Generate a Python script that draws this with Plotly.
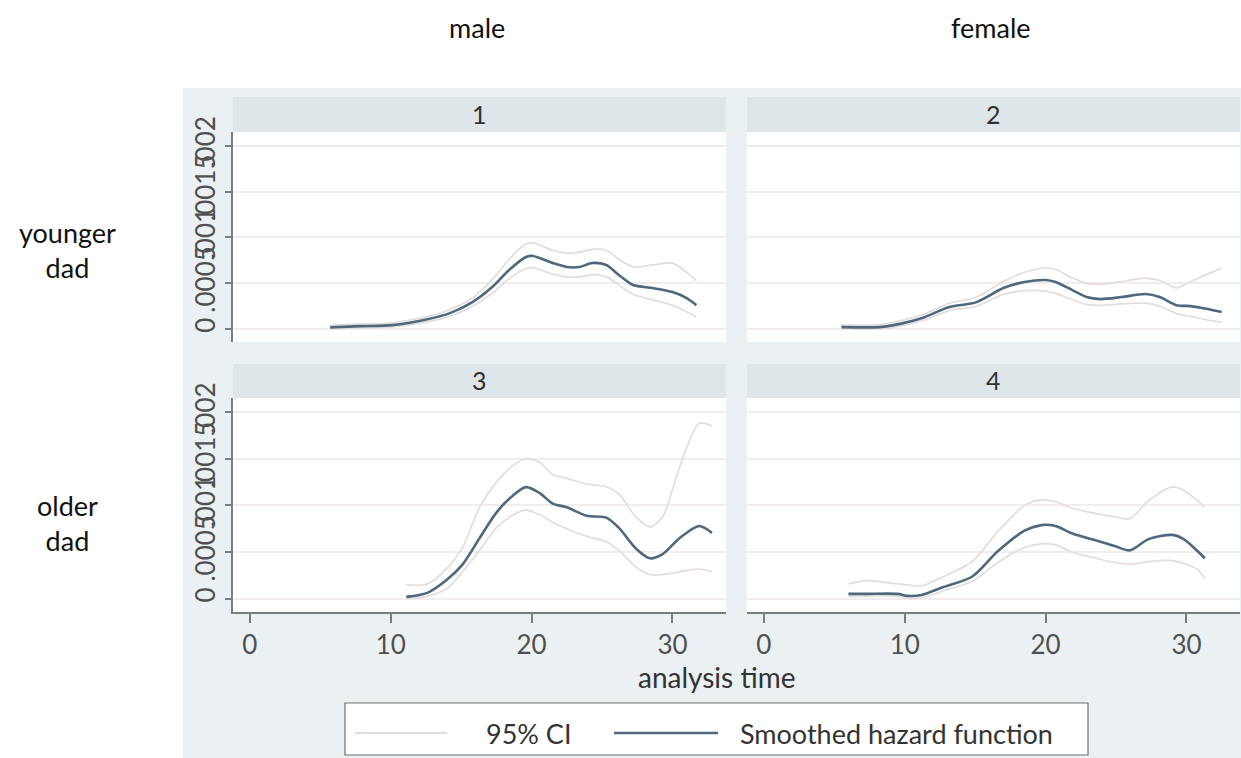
import numpy as np
import plotly.graph_objects as go

# Smoothed hazard estimates (units of 1e-4) with 95% CI, by dad age group and sex
t_p1 = [5.7, 7.8, 10.1, 12.6, 14.2, 15.8, 17.2, 18.4, 19.6, 20.1, 21.5, 22.5, 23.4, 24.3, 25.3, 26.2, 27.2, 28.6, 30.0, 31.0, 31.7]
haz_p1 = [0.19, 0.33, 0.44, 1.09, 1.75, 2.95, 4.59, 6.45, 7.87, 7.98, 7.21, 6.78, 6.78, 7.21, 6.99, 5.90, 4.81, 4.48, 4.04, 3.39, 2.62]
lo_p1 = [0.05, 0.15, 0.25, 0.8, 1.4, 2.5, 3.9, 5.5, 6.6, 6.7, 6.0, 5.7, 5.7, 5.95, 5.7, 4.8, 3.8, 3.2, 2.6, 1.9, 1.3]
hi_p1 = [0.45, 0.55, 0.7, 1.4, 2.15, 3.4, 5.4, 7.6, 9.3, 9.4, 8.6, 8.3, 8.4, 8.7, 8.6, 7.6, 6.8, 7.0, 7.2, 6.2, 5.3]

t_p2 = [5.5, 8.2, 9.2, 11.4, 13.1, 15.1, 17.0, 18.5, 20.0, 20.7, 21.9, 22.9, 23.9, 25.4, 27.1, 28.1, 29.3, 30.3, 31.5, 32.5]
haz_p2 = [0.22, 0.22, 0.44, 1.31, 2.4, 2.95, 4.48, 5.14, 5.36, 5.14, 4.26, 3.5, 3.28, 3.5, 3.83, 3.5, 2.62, 2.51, 2.19, 1.86]
lo_p2 = [0.05, 0.05, 0.2, 1.0, 2.0, 2.5, 3.8, 4.2, 4.15, 3.9, 3.2, 2.7, 2.6, 2.75, 2.84, 2.5, 1.7, 1.4, 1.0, 0.77]
hi_p2 = [0.45, 0.5, 0.75, 1.65, 2.8, 3.5, 5.2, 6.2, 6.67, 6.5, 5.6, 5.0, 4.9, 5.2, 5.57, 5.3, 4.5, 5.2, 6.0, 6.67]

t_p3 = [11.1, 12.6, 14.0, 15.1, 16.3, 17.5, 18.7, 19.6, 20.6, 21.5, 22.5, 23.9, 25.3, 26.2, 27.4, 28.4, 29.3, 30.5, 31.9, 32.8]
haz_p3 = [0.22, 0.65, 2.07, 3.7, 6.5, 9.24, 11.1, 11.96, 11.3, 10.2, 9.8, 8.9, 8.7, 7.6, 5.4, 4.35, 4.8, 6.5, 7.8, 7.07]
lo_p3 = [0.05, 0.3, 1.1, 2.9, 5.2, 7.6, 9.0, 9.5, 9.0, 8.2, 7.5, 6.7, 6.1, 5.2, 3.4, 2.6, 2.6, 2.9, 3.2, 2.9]
hi_p3 = [1.5, 1.6, 3.3, 5.5, 9.8, 12.5, 14.3, 15.0, 14.6, 13.3, 12.9, 12.3, 12.0, 11.2, 8.8, 7.7, 8.8, 14.1, 18.8, 18.5]

t_p4 = [6.0, 7.3, 9.5, 10.2, 11.2, 12.6, 14.8, 16.6, 18.5, 19.7, 20.7, 21.9, 23.7, 24.9, 26.0, 27.3, 29.0, 29.8, 30.8, 31.3]
haz_p4 = [0.54, 0.54, 0.54, 0.33, 0.43, 1.2, 2.4, 5.1, 7.3, 7.9, 7.8, 7.0, 6.2, 5.65, 5.2, 6.4, 6.85, 6.4, 5.1, 4.35]
lo_p4 = [0.3, 0.3, 0.3, 0.1, 0.1, 0.8, 1.9, 3.9, 5.5, 5.9, 5.8, 5.0, 4.3, 3.9, 3.7, 4.0, 4.1, 3.8, 3.15, 2.1]
hi_p4 = [1.6, 1.96, 1.6, 1.5, 1.4, 2.3, 4.0, 7.2, 10.0, 10.6, 10.4, 9.7, 9.1, 8.8, 8.6, 10.5, 12.0, 11.6, 10.5, 9.8]

col_titles = ["male", "female"]
row_titles = ["younger<br>dad", "older<br>dad"]
panel_labels = ["1", "2", "3", "4"]
y_tickvals = [0, 0.0005, 0.001, 0.0015, 0.002]
y_ticktext = ["0", ".0005", ".001", ".0015", ".002"]
x_tickvals = [0, 10, 20, 30]
legend_labels = ["95% CI", "Smoothed hazard function"]

UNIT = 1e-4
W, H = 1241, 758
FONT = "Lato"
HAZ_COLOR = "#50687b"
CI_COLOR = "#e4dcdc"
GRID_COLOR = "#f1eded"
BG_COLOR = "#ebf0f3"
STRIP_COLOR = "#dfe6ea"
TEXT_COLOR = "#333333"
TICK_COLOR = "#505050"


def px(x):
    return x / W


def py(y):
    return 1 - y / H


def label(x, y, text, size=27, color=TEXT_COLOR, xanchor="center"):
    return dict(x=px(x), y=py(y), xref="paper", yref="paper", text=text, showarrow=False,
                xanchor=xanchor, yanchor="middle", align="center",
                font=dict(family=FONT, size=size, color=color))


# panel boxes in pixels: (left, right) per column, (top, bottom) per row
cols = [(233, 726), (747, 1240)]
rows = [(132, 342), (398, 612)]
strips = [(97, 132), (364, 398)]

panels = [
    (t_p1, haz_p1, lo_p1, hi_p1),
    (t_p2, haz_p2, lo_p2, hi_p2),
    (t_p3, haz_p3, lo_p3, hi_p3),
    (t_p4, haz_p4, lo_p4, hi_p4),
]

fig = go.Figure()
layout = {}
shapes = []
annotations = []

# outer graph region background
shapes.append(dict(type="rect", xref="paper", yref="paper", x0=px(183), x1=1, y0=0, y1=py(88),
                   fillcolor=BG_COLOR, line_width=0, layer="below"))

for i, (t, haz, lo, hi) in enumerate(panels):
    r, c = divmod(i, 2)
    n = i + 1
    xa = "x" if n == 1 else f"x{n}"
    ya = "y" if n == 1 else f"y{n}"
    t = np.asarray(t)
    for series in (lo, hi):
        fig.add_trace(go.Scatter(x=t, y=np.asarray(series) * UNIT, mode="lines",
                                 line=dict(color=CI_COLOR, width=1.7, shape="spline", smoothing=0.8),
                                 xaxis=xa, yaxis=ya, showlegend=False, hoverinfo="skip"))
    fig.add_trace(go.Scatter(x=t, y=np.asarray(haz) * UNIT, mode="lines",
                             line=dict(color=HAZ_COLOR, width=2.6, shape="spline", smoothing=0.8),
                             xaxis=xa, yaxis=ya, showlegend=False))

    left, right = cols[c]
    top, bottom = rows[r]
    bottom_row = r == 1
    left_col = c == 0
    layout["xaxis" if n == 1 else f"xaxis{n}"] = dict(
        domain=[px(left), px(right)], anchor=ya, range=[-1.2, 33.8], automargin=False,
        showgrid=False, zeroline=False,
        showline=bottom_row, linecolor="#7d7d7d", linewidth=1.5,
        ticks="outside" if bottom_row else "", ticklen=9, tickwidth=1.5, tickcolor="#7d7d7d",
        tickvals=x_tickvals, showticklabels=bottom_row,
        tickfont=dict(family=FONT, size=26, color=TICK_COLOR),
    )
    layout["yaxis" if n == 1 else f"yaxis{n}"] = dict(
        domain=[py(bottom), py(top)], anchor=xa, range=[-0.00014, 0.00215], automargin=False,
        showgrid=True, gridcolor=GRID_COLOR, gridwidth=1.5, zeroline=False,
        showline=left_col, linecolor="#7d7d7d", linewidth=1.5,
        ticks="outside" if left_col else "", ticklen=6, tickwidth=1.5, tickcolor="#7d7d7d",
        tickvals=y_tickvals, ticktext=y_ticktext, showticklabels=left_col,
        tickangle=-90, tickfont=dict(family=FONT, size=26, color=TICK_COLOR),
    )

    # white plot region and grey header strip
    shapes.append(dict(type="rect", xref="paper", yref="paper", x0=px(left), x1=px(right),
                       y0=py(bottom), y1=py(top), fillcolor="white", line_width=0, layer="below"))
    s_top, s_bot = strips[r]
    shapes.append(dict(type="rect", xref="paper", yref="paper", x0=px(left), x1=px(right),
                       y0=py(s_bot), y1=py(s_top), fillcolor=STRIP_COLOR, line_width=0, layer="below"))
    annotations.append(label((left + right) / 2, (s_top + s_bot) / 2 - 1, panel_labels[i], size=25))

# column and row headings
for c, title in enumerate(col_titles):
    left, right = cols[c]
    annotations.append(label((left + right) / 2 - 3, 27, title, color="#111111"))
for title, yc in zip(row_titles, [250, 523]):
    annotations.append(label(67, yc, title, color="#111111"))

annotations.append(label(716, 677, "analysis time", size=28))

# legend box
shapes.append(dict(type="rect", xref="paper", yref="paper", x0=px(345), x1=px(1088), y0=py(755), y1=py(703),
                   fillcolor="white", line=dict(color="#6e6e6e", width=1.2)))
shapes.append(dict(type="line", xref="paper", yref="paper", x0=px(355), x1=px(447), y0=py(733), y1=py(733),
                   line=dict(color=CI_COLOR, width=1.8)))
shapes.append(dict(type="line", xref="paper", yref="paper", x0=px(614), x1=px(718), y0=py(733), y1=py(733),
                   line=dict(color=HAZ_COLOR, width=2.6)))
annotations.append(label(484, 733, legend_labels[0], xanchor="left"))
annotations.append(label(738, 733, legend_labels[1], xanchor="left"))

fig.update_layout(
    width=W, height=H, margin=dict(l=0, r=0, t=0, b=0, autoexpand=False),
    paper_bgcolor="white", plot_bgcolor="white",
    shapes=shapes, annotations=annotations, showlegend=False,
    **layout,
)

fig.write_html("out.html")
